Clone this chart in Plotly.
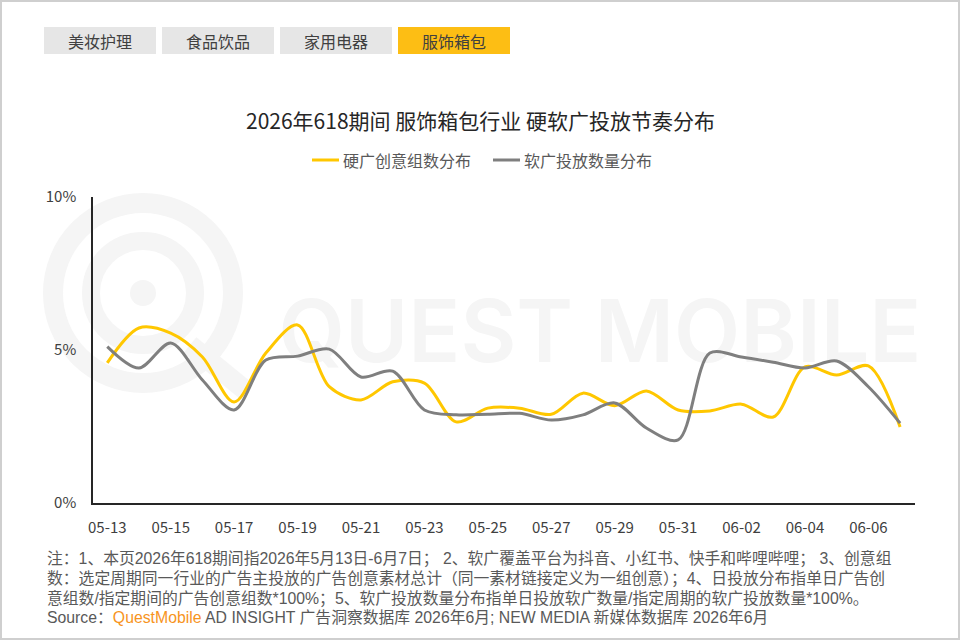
import plotly.graph_objects as go

dates = ["05-13","05-14","05-15","05-16","05-17","05-18","05-19","05-20","05-21","05-22",
         "05-23","05-24","05-25","05-26","05-27","05-28","05-29","05-30","05-31","06-01",
         "06-02","06-03","06-04","06-05","06-06","06-07"]
hard = [4.58,5.72,5.55,4.77,3.30,4.90,5.82,3.80,3.37,3.96,
        3.92,2.65,3.10,3.10,2.90,3.59,3.18,3.66,3.04,3.01,
        3.23,2.81,4.45,4.18,4.48,2.48]
soft = [5.11,4.41,5.23,4.02,3.04,4.67,4.80,5.03,4.12,4.31,
        3.04,2.88,2.90,2.93,2.71,2.88,3.27,2.45,2.06,4.90,
        4.77,4.60,4.41,4.64,3.80,2.61]
tick_dates = dates[::2]
y_ticks = [0, 5, 10]
y_tick_text = ["0%", "5%", "10%"]
tabs = ["美妆护理", "食品饮品", "家用电器", "服饰箱包"]
title = "2026年618期间 服饰箱包行业 硬软广投放节奏分布"
series_names = ["硬广创意组数分布", "软广投放数量分布"]
series_colors = ["#FFC700", "#7F7F7F"]
notes = [
    "注：1、本页2026年618期间指2026年5月13日-6月7日； 2、软广覆盖平台为抖音、小红书、快手和哔哩哔哩； 3、创意组",
    "数：选定周期同一行业的广告主投放的广告创意素材总计（同一素材链接定义为一组创意）；4、日投放分布指单日广告创",
    "意组数/指定期间的广告创意组数*100%；5、软广投放数量分布指单日投放软广数量/指定周期的软广投放数量*100%。",
    "Source：<span style='color:#F7941D'>QuestMobile</span> AD INSIGHT 广告洞察数据库 2026年6月; NEW MEDIA 新媒体数据库 2026年6月",
]

W, H = 960, 640
L, R, T, B = 93, 45, 197, 137
PW, PH = W - L - R, H - T - B
FONT = "Noto Sans CJK SC, Noto Sans, sans-serif"
NOTE_FONT = "Liberation Sans, Noto Sans CJK SC, sans-serif"

def px(x):
    return (x - L) / PW

def py(y):
    return (H - B - y) / PH

fig = go.Figure()
for name, vals, col in zip(series_names, [hard, soft], series_colors):
    fig.add_trace(go.Scatter(x=dates, y=vals, name=name, mode="lines", showlegend=False,
                             line=dict(color=col, width=3, shape="spline", smoothing=0.9)))

shapes = []
annotations = []

# border
shapes.append(dict(type="rect", xref="paper", yref="paper", x0=px(1), x1=px(W - 1), y0=py(1), y1=py(H - 1),
                   line=dict(color="#CFCFCF", width=2), layer="below"))

# watermark logo (below traces)
wm = "#F5F5F5"
cx, cy = 143, 293
for r, w in [(90, 20), (52, 18)]:
    shapes.append(dict(type="circle", xref="paper", yref="paper",
                       x0=px(cx - r), x1=px(cx + r), y0=py(cy + r), y1=py(cy - r),
                       line=dict(color=wm, width=w), layer="below"))
shapes.append(dict(type="circle", xref="paper", yref="paper",
                   x0=px(cx - 13), x1=px(cx + 13), y0=py(cy + 13), y1=py(cy - 13),
                   fillcolor=wm, line=dict(color=wm, width=0), layer="below"))
shapes.append(dict(type="line", xref="paper", yref="paper", x0=px(190), x1=px(245), y0=py(345), y1=py(390),
                   line=dict(color=wm, width=20), layer="below"))
shapes.append(dict(type="rect", xref="paper", yref="paper", x0=px(280), x1=px(920), y0=py(370), y1=py(285),
                   line=dict(width=0), fillcolor="rgba(0,0,0,0)", layer="below",
                   label=dict(text="QUEST MOBILE", textposition="middle center",
                              font=dict(family="Inter, Roboto, sans-serif", size=86, color=wm, weight=600))))

# tabs
tab_x = [44, 162, 280, 398]
for i, t in enumerate(tabs):
    active = i == 3
    shapes.append(dict(type="rect", xref="paper", yref="paper", x0=px(tab_x[i]), x1=px(tab_x[i] + 112),
                       y0=py(54), y1=py(27), fillcolor="#FDBE14" if active else "#E6E6E6",
                       line=dict(width=0), layer="below"))
    annotations.append(dict(text=t, xref="paper", yref="paper", x=px(tab_x[i] + 56), y=py(41),
                            xanchor="center", yanchor="middle", showarrow=False,
                            font=dict(family=FONT, size=16, color="#404040")))

# title
annotations.append(dict(text=title, xref="paper", yref="paper", x=px(480), y=py(120),
                        xanchor="center", yanchor="middle", showarrow=False,
                        font=dict(family=FONT, size=21, color="#262626")))

# legend (manual)
leg_x = [312, 493]
for name, col, lx in zip(series_names, series_colors, leg_x):
    shapes.append(dict(type="line", xref="paper", yref="paper", x0=px(lx), x1=px(lx + 27),
                       y0=py(160), y1=py(160), line=dict(color=col, width=3)))
    annotations.append(dict(text=name, xref="paper", yref="paper", x=px(lx + 29), y=py(160),
                            xanchor="left", yanchor="middle", showarrow=False,
                            font=dict(family=FONT, size=16, color="#595959")))

# notes
note_y = [558, 578, 598, 617]
for t, yy in zip(notes, note_y):
    annotations.append(dict(text=t, xref="paper", yref="paper", x=px(45), y=py(yy),
                            xanchor="left", yanchor="middle", showarrow=False,
                            font=dict(family=NOTE_FONT, size=15.8, color="#595959")))

fig.update_layout(
    width=W, height=H,
    margin=dict(l=L, r=R, t=T, b=B),
    paper_bgcolor="white", plot_bgcolor="rgba(0,0,0,0)",
    shapes=shapes, annotations=annotations,
    showlegend=False,
    xaxis=dict(type="category", range=[-0.45, 25.47], tickvals=tick_dates, ticktext=tick_dates,
               showgrid=False, zeroline=False, showline=True, linecolor="#262626", linewidth=1.5,
               ticks="", tickfont=dict(family=FONT, size=15, color="#404040"),
               ticklabelstandoff=10, fixedrange=True),
    yaxis=dict(range=[0, 10], tickvals=y_ticks, ticktext=y_tick_text,
               showgrid=False, zeroline=False, showline=True, linecolor="#262626", linewidth=1.5,
               ticks="", tickfont=dict(family=FONT, size=15, color="#404040"),
               ticklabelstandoff=12, fixedrange=True),
)

fig.write_html("out.html")
